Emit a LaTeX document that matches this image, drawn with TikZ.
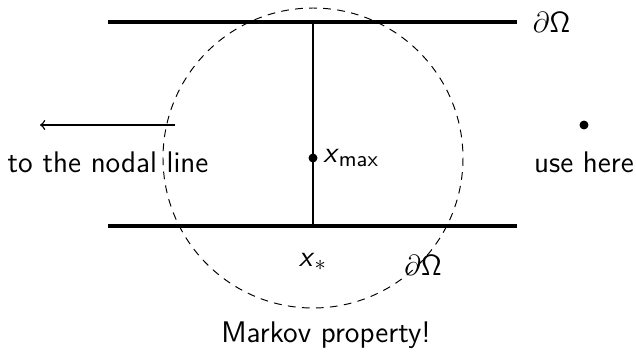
\documentclass[tikz,border=0pt]{standalone}
\usetikzlibrary{positioning,arrows.meta}

\begin{document}
\sffamily
\begin{tikzpicture}[
    x=0.0145cm, y=-0.0145cm,
    >=to,
    wall/.style={line width=1.9pt},
    stem/.style={line width=0.8pt},
    ball/.style={dashed, dash pattern=on 3.2pt off 2.6pt, line width=0.4pt},
    dot/.style={circle, fill=black, inner sep=0pt, minimum size=3.7pt},
    lbl/.style={font=\fontsize{12.3}{14}\selectfont, inner sep=1pt}
]
\useasboundingbox (0,0) rectangle (636,352);

% --- Positions ---
\def\xL{108}
\def\xR{517}
\def\xMid{313}
\def\yTop{22}
\def\yBot{226}

% --- Boundary walls ---
\coordinate (tl) at (\xL, \yTop);
\coordinate (tr) at (\xR, \yTop);
\coordinate (bl) at (\xL, \yBot);
\coordinate (br) at (\xR, \yBot);
\draw[wall] (tl) -- (tr);
\draw[wall] (bl) -- (br);
\node[lbl, anchor=west] (dtop) at (530, \yTop) {$\partial\mathsf{\Omega}$};

% --- Segment through the maximum ---
\coordinate (stop) at (\xMid, \yTop);
\coordinate (sbot) at (\xMid, \yBot);
\draw[stem] (stop) -- (sbot);
\node[dot] (xmax) at (\xMid, 158) {};
\node[lbl, right=1pt of xmax] {\textit{x}$_{\mathsf{max}}$};
\node[lbl] (xstar) at (\xMid, 262) {\textit{x}$_*$};

% --- Ball ---
\draw[ball] (xmax) circle[radius=150];
\node[lbl] (dbot) at (423, 265) {$\partial\mathsf{\Omega}$};

% --- Left: towards the nodal line ---
\coordinate (astart) at (175, 125);
\coordinate (aend) at (40, 125);
\draw[->, line width=0.6pt] (astart) -- (aend);
\node[lbl] (nodal) at (108, 162) {to the nodal line};

% --- Right ---
\node[dot] (far) at (584, 125) {};
\node[lbl] (use) at (584, 162) {use here};

% --- Caption ---
\node[lbl] (markov) at (326, 335) {Markov property!};

\end{tikzpicture}
\end{document}
